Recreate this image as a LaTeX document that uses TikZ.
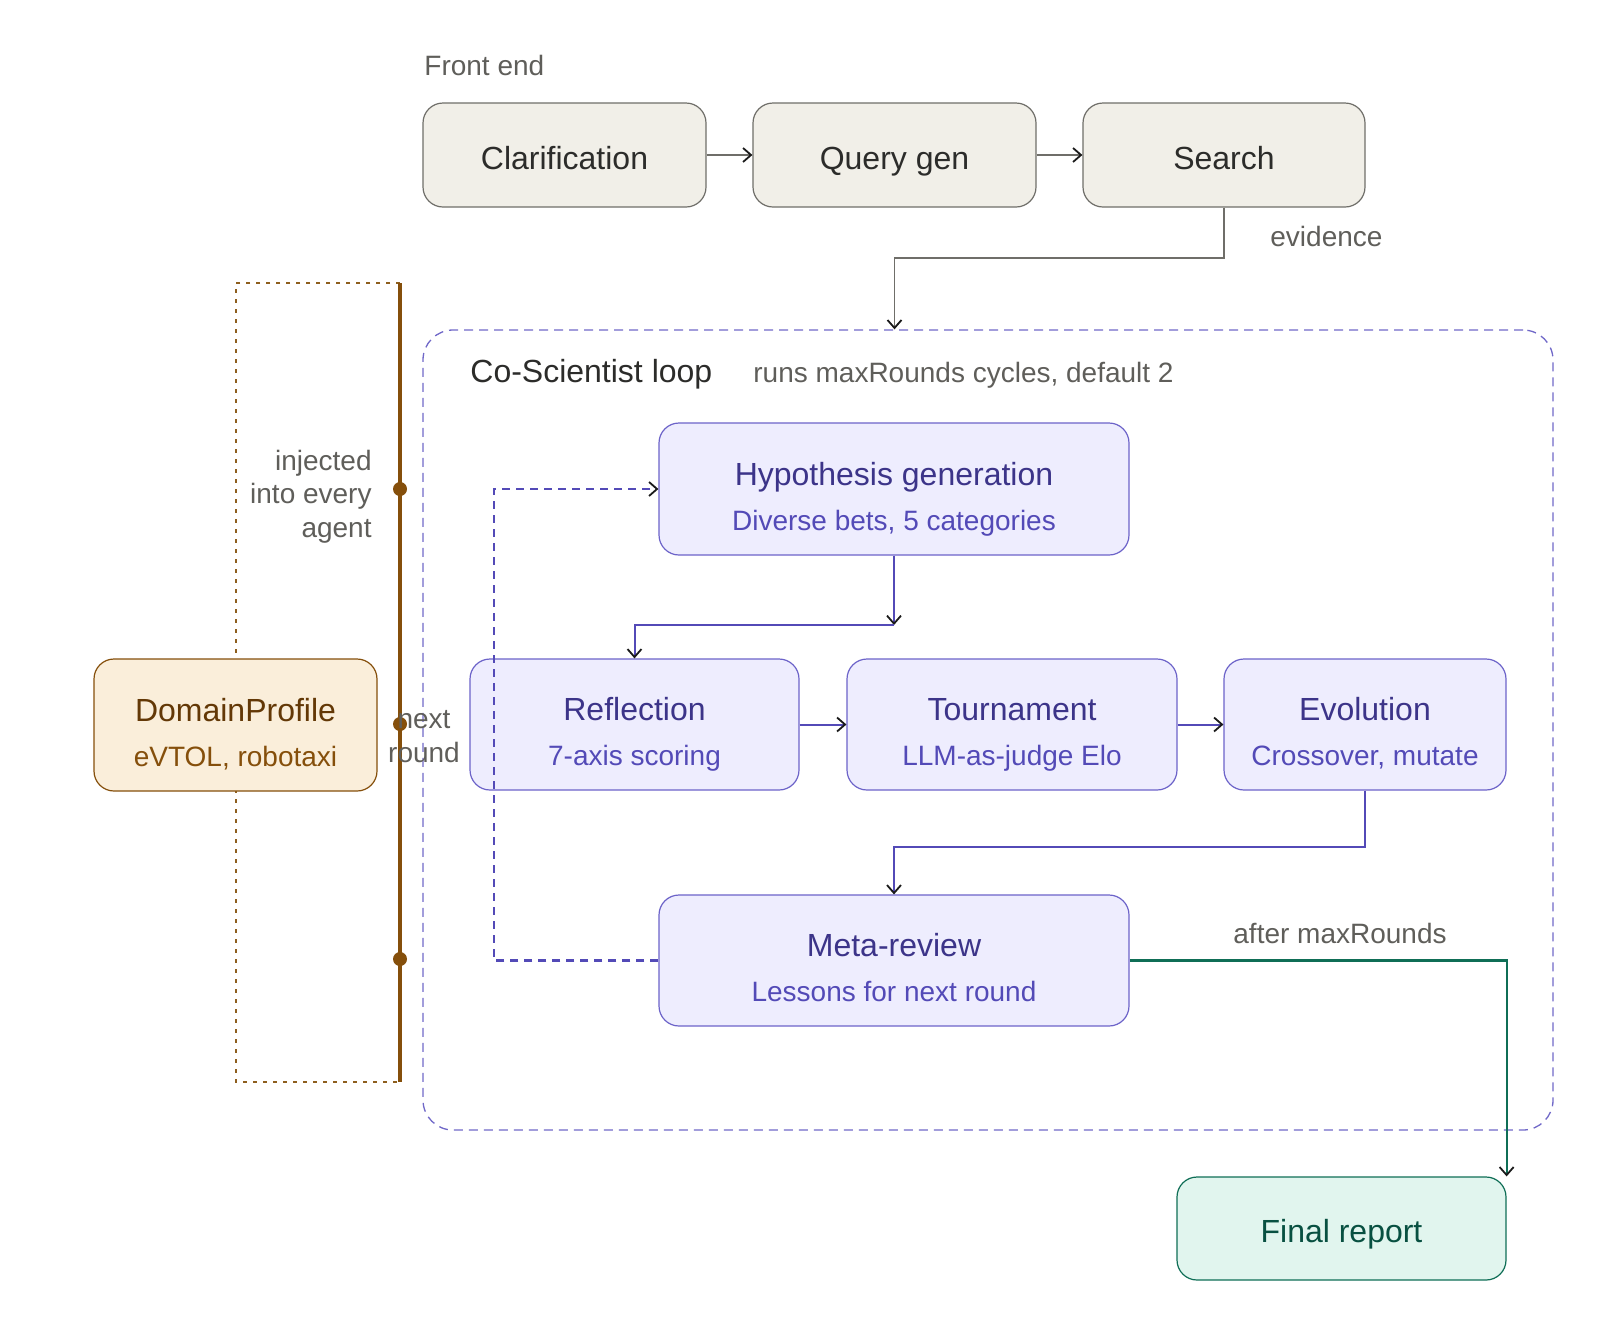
\documentclass[tikz,border=0pt]{standalone}
\usepackage{fontspec}
\setmainfont{Liberation Sans}
\usetikzlibrary{arrows.meta,calc}
\definecolor{gfill}{HTML}{F1EFE8}
\definecolor{gline}{HTML}{6F6E69}
\definecolor{gtext}{HTML}{2C2C2A}
\definecolor{lbl}{HTML}{5F5E5A}
\definecolor{pfill}{HTML}{EEEDFE}
\definecolor{pline}{HTML}{6C63C9}
\definecolor{ptitle}{HTML}{3C3489}
\definecolor{psub}{HTML}{534AB7}
\definecolor{pdash}{HTML}{7068C8}
\definecolor{gnfill}{HTML}{E1F5EE}
\definecolor{gnline}{HTML}{0F6E56}
\definecolor{gntext}{HTML}{085041}
\definecolor{afill}{HTML}{FAEEDA}
\definecolor{aline}{HTML}{854F0B}
\definecolor{adash}{HTML}{8E5F1E}
\definecolor{atitle}{HTML}{633806}
\definecolor{tipc}{HTML}{1A1A1A}
\begin{document}
\begin{tikzpicture}[x=0.5pt,y=-0.5pt,
  box/.style={rounded corners=10pt, inner sep=0pt},
  graybox/.style={box, fill=gfill, draw=gline, line width=0.6pt, minimum height=52pt},
  purplebox/.style={box, fill=pfill, draw=pline, line width=0.6pt, minimum height=65.5pt},
  greenbox/.style={box, fill=gnfill, draw=gnline, line width=0.6pt, minimum height=51.5pt},
  amberbox/.style={box, fill=afill, draw=aline, line width=0.6pt, minimum height=66pt},
  loopbox/.style={draw=pdash, line width=0.65pt, dash pattern=on 4.5pt off 3pt, rounded corners=15pt, minimum width=565pt, minimum height=400pt, inner sep=0pt},
  big/.style={font=\fontsize{16}{19}\selectfont, inner sep=0pt},
  small/.style={font=\fontsize{14}{16.75}\selectfont, inner sep=0pt},
  tip/.style={-{Straight Barb[length=4pt,width=7pt,line width=0.9pt,color=tipc]}},
  grayarrow/.style={tip, draw=gline, line width=0.8pt},
  purplearrow/.style={tip, draw=psub, line width=1pt},
  feedback/.style={tip, draw=psub, line width=1.2pt, dash pattern=on 4pt off 3pt},
  greenarrow/.style={tip, draw=gnline, line width=1.1pt},
  brownline/.style={draw=aline, line width=2pt},
  browndash/.style={draw=adash, line width=0.65pt, dash pattern=on 2pt off 3pt},
  dot/.style={circle, fill=aline, inner sep=0pt, minimum size=7pt}
]
\useasboundingbox (0,0) rectangle (1600,1318);

% DomainProfile frame
\coordinate (btop) at (400,283);
\coordinate (bbot) at (400,1082);
\coordinate (bltop) at (236,283);
\coordinate (blbot) at (236,1082);
\draw[browndash] (btop) -- (bltop) -- (blbot) -- (bbot);

% loop container
\node[loopbox] (loop) at (988,730) {};
\node[big, text=gtext, anchor=base west] (looptitle) at (470,382) {Co-Scientist loop};
\node[small, text=lbl, anchor=base west] (loopnote) at (753,382) {runs maxRounds cycles, default 2};

% front end
\node[small, text=lbl, anchor=base west] (fe) at (424,75) {Front end};
\node[graybox, minimum width=141.5pt] (clar) at (564.5,155) {};
\node[graybox, minimum width=141.5pt] (query) at (894.5,155) {};
\node[graybox, minimum width=141pt] (search) at (1224,155) {};
\node[big, text=gtext, anchor=base] (clarT) at ($(clar.center)+(0,14)$) {Clarification};
\node[big, text=gtext, anchor=base] (queryT) at ($(query.center)+(0,14)$) {Query gen};
\node[big, text=gtext, anchor=base] (searchT) at ($(search.center)+(0,14)$) {Search};
\draw[grayarrow] (clar.east) -- (query.west);
\draw[grayarrow] (query.east) -- (search.west);
\coordinate (evbend) at (894.5,258);
\draw[grayarrow] (search.south) |- (evbend) -- (loop.north -| evbend);
\node[small, text=lbl, anchor=base west] (evlbl) at (1270,246) {evidence};

% loop boxes
\node[purplebox, minimum width=235pt, minimum height=66pt] (hyp) at (894,489) {};
\node[purplebox, minimum width=164.5pt] (refl) at (634.5,724.5) {};
\node[purplebox, minimum width=165pt] (tour) at (1012,724.5) {};
\node[purplebox, minimum width=141pt] (evol) at (1365,724.5) {};
\node[purplebox, minimum width=235pt] (meta) at (894,960.5) {};

\node[big, text=ptitle, anchor=base] (hypT) at ($(hyp.center)+(0,-4)$) {Hypothesis generation};
\node[small, text=psub, anchor=base] (hypS) at ($(hyp.center)+(0,41)$) {Diverse bets, 5 categories};
\node[big, text=ptitle, anchor=base] (reflT) at ($(refl.center)+(0,-4)$) {Reflection};
\node[small, text=psub, anchor=base] (reflS) at ($(refl.center)+(0,41)$) {7-axis scoring};
\node[big, text=ptitle, anchor=base] (tourT) at ($(tour.center)+(0,-4)$) {Tournament};
\node[small, text=psub, anchor=base] (tourS) at ($(tour.center)+(0,41)$) {LLM-as-judge Elo};
\node[big, text=ptitle, anchor=base] (evolT) at ($(evol.center)+(0,-4)$) {Evolution};
\node[small, text=psub, anchor=base] (evolS) at ($(evol.center)+(0,41)$) {Crossover, mutate};
\node[big, text=ptitle, anchor=base] (metaT) at ($(meta.center)+(0,-4)$) {Meta-review};
\node[small, text=psub, anchor=base] (metaS) at ($(meta.center)+(0,41)$) {Lessons for next round};

\coordinate (hj) at (894,625);
\draw[purplearrow] (hyp.south) -- (hj);
\draw[purplearrow] (hj) -| (refl.north);
\draw[purplearrow] (refl.east) -- (tour.west);
\draw[purplearrow] (tour.east) -- (evol.west);
\coordinate (mj) at (894,847);
\draw[purplearrow] (evol.south) |- (mj) -- (meta.north);
\coordinate (fbx) at (494,724);
\draw[feedback] (meta.west) -| (fbx) |- (hyp.west);

% final report
\node[greenbox, minimum width=164.5pt] (final) at (1341.5,1228.5) {};
\node[big, text=gntext, anchor=base] (finalT) at ($(final.center)+(0,14)$) {Final report};
\draw[greenarrow] (meta.east) -| (final.north east);
\node[small, text=lbl, anchor=base west] (afterlbl) at (1233,943) {after maxRounds};

% DomainProfile
\node[amberbox, minimum width=141.5pt] (dom) at (235.5,725) {};
\node[big, text=atitle, anchor=base] (domT) at ($(dom.center)+(0,-4)$) {DomainProfile};
\node[small, text=aline, anchor=base] (domS) at ($(dom.center)+(0,41)$) {eVTOL, robotaxi};
\draw[brownline] (btop) -- (bbot);
\node[dot] (d1) at (400,489) {};
\node[dot] (d2) at (400,724) {};
\node[dot] (d3) at (400,959) {};
\node[small, text=lbl, align=right, anchor=base east] (injlbl) at (372,537) {injected\\into every\\agent};
\node[small, text=lbl, align=center, anchor=base] (nextlbl) at (424,762) {next\\round};
\end{tikzpicture}
\end{document}
